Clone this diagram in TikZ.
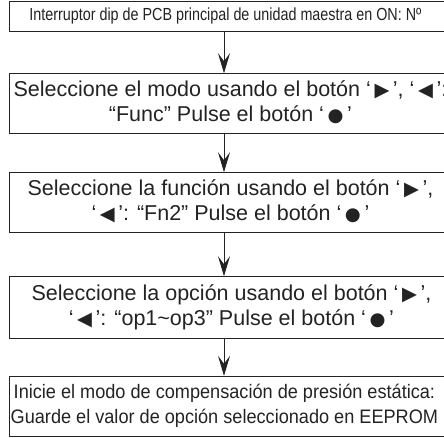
\documentclass[tikz,border=0pt]{standalone}
\usepackage{fontspec}
\setmainfont{Liberation Sans}
\newfontfamily\narrowA[FakeStretch=0.82]{Liberation Sans}
\newfontfamily\narrowB[FakeStretch=0.93]{Liberation Sans}
\newfontfamily\symfont{DejaVu Sans}
\usepackage{tikz}
\usetikzlibrary{arrows.meta,positioning,calc}
\definecolor{flowink}{RGB}{35,35,35}
\newcommand{\btnR}{{\symfont\scalebox{0.9}{▶}}}
\newcommand{\btnL}{{\symfont\scalebox{0.9}{◀}}}
\newcommand{\btnO}{{\symfont\scalebox{0.85}{●}}}
% text centred on x = 225 (+ shift) inside a frame that runs off the page
\newcommand{\steplines}[2]{\makebox[460pt][l]{\hspace*{#1}\makebox[432pt][c]{\begin{tabular}{@{}c@{}}#2\end{tabular}}}}

\begin{document}
\begin{tikzpicture}[x=1pt,y=1pt,
    stepbox/.style={rectangle,draw=flowink,line width=0.8pt,text=flowink,inner sep=0pt,
      anchor=south west,font=\fontsize{21.5}{25}\selectfont},
    flow/.style={draw=flowink,line width=0.8pt,-{Stealth[length=20pt,width=12pt,inset=8pt]}}]
  \useasboundingbox (0,0) rectangle (444,437);
  \clip (0,0) rectangle (444,437);
  \node[stepbox,minimum height=30pt,font=\narrowA\fontsize{17.5}{20}\selectfont] (b1) at (9,405)
    {\steplines{0pt}{Interruptor dip de PCB principal de unidad maestra en ON: Nº}};
  \node[stepbox,minimum height=60pt] (b2) at (9,303)
    {\steplines{5pt}{Seleccione el modo usando el botón ‘\,\btnR\,’, ‘\,\btnL\,’:\\“Func” Pulse el botón ‘\,\btnO\,’}};
  \node[stepbox,minimum height=60pt] (b3) at (9,204)
    {\steplines{5pt}{Seleccione la función usando el botón ‘\,\btnR\,’,\\‘\,\btnL\,’: “Fn2” Pulse el botón ‘\,\btnO\,’}};
  \node[stepbox,minimum height=62pt] (b4) at (9,98)
    {\steplines{6pt}{Seleccione la opción usando el botón ‘\,\btnR\,’,\\‘\,\btnL\,’: “op1\textasciitilde op3” Pulse el botón ‘\,\btnO\,’}};
  \node[stepbox,minimum height=60pt,font=\narrowB\fontsize{19.5}{24.5}\selectfont] (b5) at (9,0.4)
    {\steplines{-1pt}{Inicie el modo de compensación de presión estática:\\Guarde el valor de opción seleccionado en EEPROM}};
  \coordinate (axis) at (224,0);
  \foreach \a/\b in {b1/b2,b2/b3,b3/b4,b4/b5}
    \draw[flow] (\a.south -| axis) -- (\b.north -| axis);
\end{tikzpicture}
\end{document}
